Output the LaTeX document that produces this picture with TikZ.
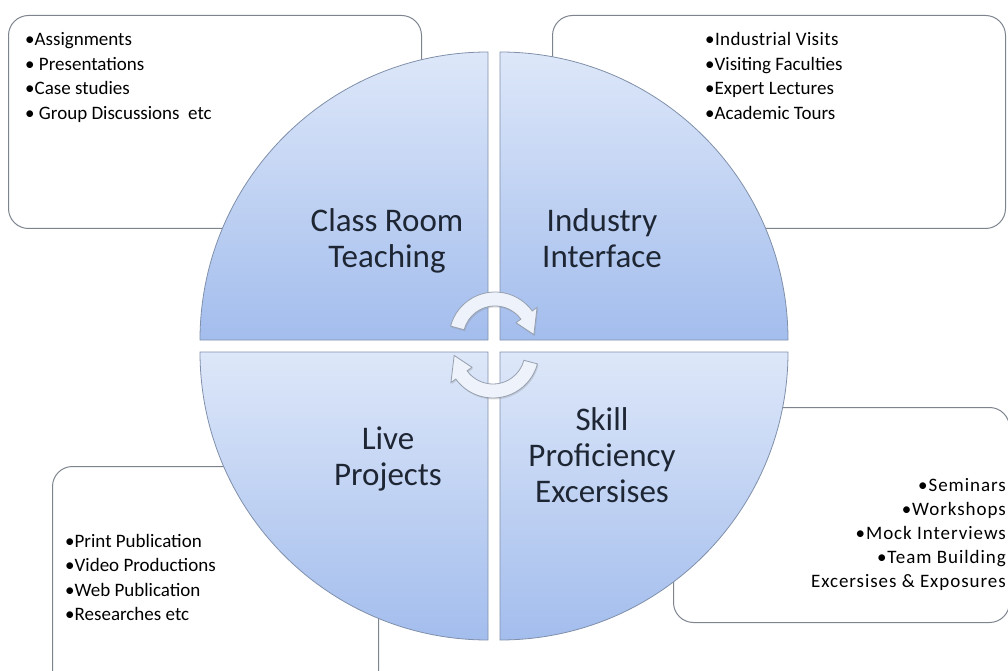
\documentclass[tikz,border=0pt]{standalone}
\usepackage{fontspec}
\setmainfont{Carlito}
\usetikzlibrary{positioning,shadows}

\definecolor{quadlight}{RGB}{221,231,249}
\definecolor{quaddark}{RGB}{163,189,237}
\definecolor{quadline}{RGB}{128,144,170}
\definecolor{boxline}{RGB}{125,132,142}
\definecolor{arrowfill}{RGB}{238,242,250}
\definecolor{arrowline}{RGB}{150,160,176}
\definecolor{labeltext}{RGB}{30,38,52}

\begin{document}
\begin{tikzpicture}[
    x=1pt, y=1pt,
    quad/.style={draw=quadline, line width=0.8pt, top color=quadlight, bottom color=quaddark},
    infobox/.style={draw=boxline, fill=white, rounded corners=20pt, line width=1pt, inner sep=0pt},
    listtext/.style={font=\fontsize{19}{24.5}\selectfont, inner sep=0pt},
    bigtext/.style={font=\fontsize{33}{36}\selectfont, align=center, text=labeltext, inner sep=0pt},
    cyclearrow/.style={draw=arrowline, fill=arrowfill, line width=0.8pt,
        drop shadow={opacity=0.25, shadow xshift=1pt, shadow yshift=-1.5pt}}
]
\useasboundingbox (0,0) rectangle (1008,670);
\clip (0,0) rectangle (1008,670);

% side boxes
\node[infobox, minimum width=413, minimum height=213, anchor=north west] (boxClass) at (8,655) {};
\node[infobox, minimum width=453, minimum height=213, anchor=north west] (boxIndustry) at (552,655) {};
\node[infobox, minimum width=326, minimum height=224, anchor=north west] (boxLive) at (52,204) {};
\node[infobox, minimum width=336, minimum height=215, anchor=north west] (boxSkill) at (673,263) {};

\node[listtext, align=left, anchor=north west] (listClass) at ([shift={(17,-17.5)}]boxClass.north west)
    {•Assignments\\• Presentations\\•Case studies\\• Group Discussions\ \ etc};
\node[listtext, align=left, anchor=north west] (listIndustry) at ([shift={(153,-17.6)}]boxIndustry.north west)
    {\addfontfeatures{LetterSpace=2}•Industrial Visits\\•Visiting Faculties\\•Expert Lectures\\•Academic Tours};
\node[listtext, align=left, anchor=north west] (listLive) at ([shift={(13,-68)}]boxLive.north west)
    {•Print Publication\\•Video Productions\\•Web Publication\\•Researches etc};
\node[listtext, font=\fontsize{19}{24}\selectfont\addfontfeatures{LetterSpace=5}, align=right, anchor=north east] (listSkill) at ([shift={(-4,-71)}]boxSkill.north east)
    {•Seminars\\•Workshops\\•Mock Interviews\\•Team Building\\Excersises \& Exposures};

% the four quarters
\coordinate (cClass) at (488,330);
\coordinate (cIndustry) at (500,330);
\coordinate (cLive) at (488,318);
\coordinate (cSkill) at (500,318);

\path[quad] (cClass) -- ++(180:288) arc[start angle=180, end angle=90, radius=288] -- cycle;
\path[quad] (cIndustry) -- ++(90:288) arc[start angle=90, end angle=0, radius=288] -- cycle;
\path[quad] (cLive) -- ++(270:288) arc[start angle=270, end angle=180, radius=288] -- cycle;
\path[quad] (cSkill) -- ++(0:288) arc[start angle=0, end angle=-90, radius=288] -- cycle;

% cycle arrows
\coordinate (cTop) at (495,332);
\coordinate (cBottom) at (493,318);

\path[cyclearrow] ([shift={(165:46)}]cTop) arc[start angle=165, end angle=36, radius=46]
    -- ([shift={(36:52)}]cTop) -- ([shift={(5:39)}]cTop) -- ([shift={(36:26)}]cTop)
    -- ([shift={(36:32)}]cTop) arc[start angle=36, end angle=165, radius=32] -- cycle;
\path[cyclearrow] ([shift={(345:46)}]cBottom) arc[start angle=345, end angle=216, radius=46]
    -- ([shift={(216:52)}]cBottom) -- ([shift={(185:39)}]cBottom) -- ([shift={(216:26)}]cBottom)
    -- ([shift={(216:32)}]cBottom) arc[start angle=216, end angle=345, radius=32] -- cycle;

% labels
\node[bigtext] (lblClass) at (387,429) {Class Room\\Teaching};
\node[bigtext] (lblIndustry) at (602,432) {Industry\\Interface};
\node[bigtext] (lblLive) at (388,211) {Live\\Projects};
\node[bigtext] (lblSkill) at (602,214.5) {Skill\\Proficiency\\Excersises};
\end{tikzpicture}
\end{document}
